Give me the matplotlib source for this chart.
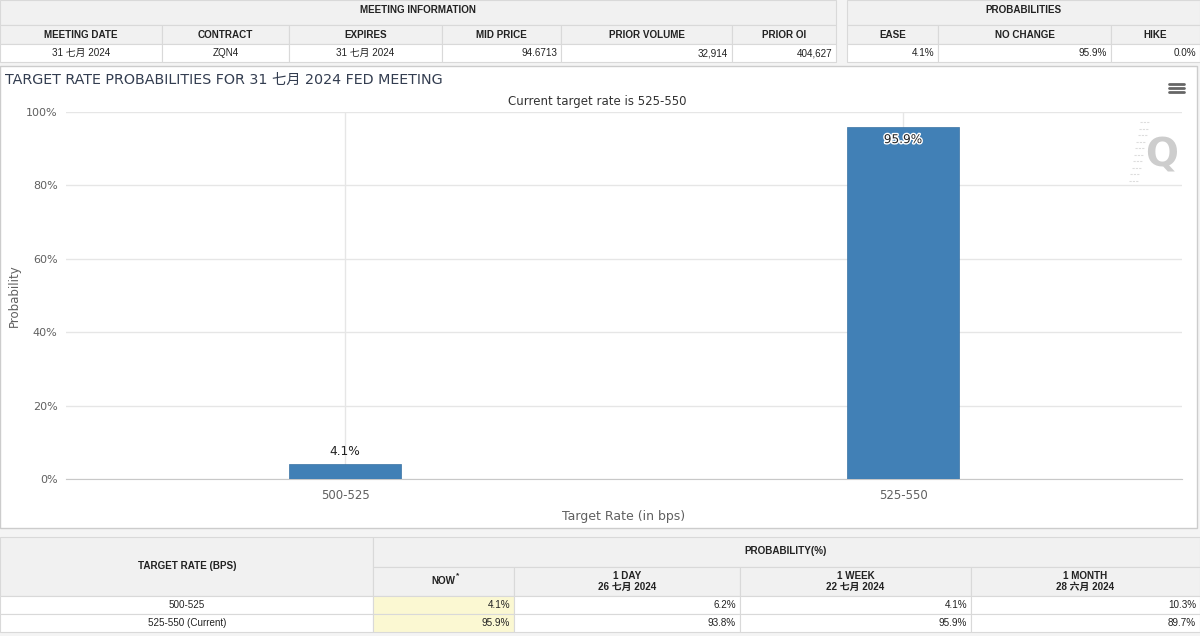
import matplotlib
matplotlib.use("Agg")
import matplotlib.pyplot as plt
from matplotlib.patches import Rectangle
import matplotlib.patheffects as pe

plt.rcParams['font.family'] = ['DejaVu Sans', 'Noto Sans CJK SC']

# ---- data ----
rate_bins = ["500-525", "525-550"]
probabilities = [4.1, 95.9]
bar_labels = ["4.1%", "95.9%"]
y_ticks = [0, 20, 40, 60, 80, 100]

meeting_cols = ["MEETING DATE", "CONTRACT", "EXPIRES", "MID PRICE", "PRIOR VOLUME", "PRIOR OI"]
meeting_vals = ["31 七月 2024", "ZQN4", "31 七月 2024", "94.6713", "32,914", "404,627"]
prob_cols = ["EASE", "NO CHANGE", "HIKE"]
prob_vals = ["4.1%", "95.9%", "0.0%"]

hist_cols = ["NOW", "1 DAY\n26 七月 2024", "1 WEEK\n22 七月 2024", "1 MONTH\n28 六月 2024"]
hist_rows = ["500-525", "525-550 (Current)"]
hist_vals = [["4.1%", "6.2%", "4.1%", "10.3%"],
             ["95.9%", "93.8%", "95.9%", "89.7%"]]

W, H = 1200, 636
fig = plt.figure(figsize=(W / 100, H / 100), dpi=100)
fig.patch.set_facecolor("#f4f4f4")

bg = fig.add_axes([0, 0, 1, 1])
bg.set_xlim(0, W)
bg.set_ylim(H, 0)
bg.axis("off")

tfont = ['Liberation Sans', 'Noto Sans CJK SC']
EDGE = "#d9d9d9"
HEAD = "#f1f1f1"


def cell(x0, x1, y0, y1, fc="white"):
    bg.add_patch(Rectangle((x0, y0), x1 - x0, y1 - y0, facecolor=fc,
                           edgecolor=EDGE, linewidth=0.8))


def txt(x, y, s, ha="center", bold=False, size=7.1):
    bg.text(x, y, s, ha=ha, va="center", fontsize=size, family=tfont,
            fontweight="bold" if bold else "normal", color="#222222",
            linespacing=1.15)


# ---- top tables ----
left_edges = [0, 162, 289, 442, 561, 732, 836]
cell(0, 836, 0, 25, HEAD)
txt(418, 10, "MEETING INFORMATION", bold=True)
for i, name in enumerate(meeting_cols):
    a, b = left_edges[i], left_edges[i + 1]
    cell(a, b, 25, 44, HEAD)
    txt((a + b) / 2, 34.5, name, bold=True)
    cell(a, b, 44, 62)
    if i < 3:
        txt((a + b) / 2, 53, meeting_vals[i])
    else:
        txt(b - 4, 53, meeting_vals[i], ha="right")

right_edges = [847, 938, 1111, 1200]
cell(847, 1200, 0, 25, HEAD)
txt(1023, 10, "PROBABILITIES", bold=True)
for i, name in enumerate(prob_cols):
    a, b = right_edges[i], right_edges[i + 1]
    cell(a, b, 25, 44, HEAD)
    txt((a + b) / 2, 34.5, name, bold=True)
    cell(a, b, 44, 62)
    txt(b - 4, 53, prob_vals[i], ha="right")

# ---- chart panel ----
bg.add_patch(Rectangle((0, 66), 1197, 462, facecolor="white",
                       edgecolor="#cccccc", linewidth=1))
bg.text(5, 80, "TARGET RATE PROBABILITIES FOR 31 七月 2024 FED MEETING",
        ha="left", va="center", fontsize=10.3, color="#333d50")
bg.text(597, 102, "Current target rate is 525-550", ha="center", va="center",
        fontsize=8.5, color="#333333")
for yy in (84, 88, 92):
    bg.plot([1169, 1184], [yy, yy], color="#666666", linewidth=2,
            solid_capstyle="round")
# watermark
bg.text(1162, 156, "Q", ha="center", va="center", fontsize=28,
        fontweight="bold", color="#cdcdcd")
for k in range(10):
    yy = 122 + k * 6.5
    bg.plot([1140 - k * 1.2, 1150 - k * 1.2], [yy, yy], color="#dddddd",
            linewidth=0.8, linestyle=(0, (2, 1)))

px_left, px_right, px_top, px_bot = 66, 1182, 112, 479
ax = fig.add_axes([px_left / W, 1 - px_bot / H, (px_right - px_left) / W,
                   (px_bot - px_top) / H])
ax.set_facecolor("none")
x = list(range(len(rate_bins)))
bars = ax.bar(x, probabilities, width=0.2, color="#4180b6",
              edgecolor="#3a72a3", linewidth=0.5, zorder=3)
ax.set_xlim(-0.5, 1.5)
ax.set_ylim(0, 100)
ax.set_yticks(y_ticks)
ax.set_yticklabels([f"{t}%" for t in y_ticks])
ax.set_xticks(x)
ax.set_xticklabels(rate_bins)
ax.grid(True, color="#e6e6e6", linewidth=1, zorder=0)
for s in ("top", "right", "left"):
    ax.spines[s].set_visible(False)
ax.spines["bottom"].set_color("#c8c8c8")
ax.tick_params(axis="y", length=0, labelsize=8, labelcolor="#606060", pad=6)
ax.tick_params(axis="x", length=0, labelsize=8.5, labelcolor="#606060", pad=7)
ax.set_ylabel("Probability", fontsize=8.5, color="#606060", labelpad=4)
ax.set_xlabel("Target Rate (in bps)", fontsize=9, color="#606060", labelpad=6)

for xi, p, lab in zip(x, probabilities, bar_labels):
    if p > 50:
        ax.annotate(lab, (xi, p), xytext=(0, -9), textcoords="offset points",
                    ha="center", va="center", fontsize=8.7, color="#222222",
                    path_effects=[pe.withStroke(linewidth=2, foreground="white")])
    else:
        ax.annotate(lab, (xi, p), xytext=(0, 9), textcoords="offset points",
                    ha="center", va="center", fontsize=8.7, color="#222222")

# ---- bottom table ----
cell(0, 373, 537, 596, HEAD)
txt(187, 566, "TARGET RATE (BPS)", bold=True)
cell(373, 1200, 537, 567, HEAD)
txt(786, 551, "PROBABILITY(%)", bold=True)
hist_edges = [373, 514, 740, 971, 1200]
for i, name in enumerate(hist_cols):
    a, b = hist_edges[i], hist_edges[i + 1]
    cell(a, b, 567, 596, HEAD)
    txt((a + b) / 2, 581.5, name, bold=True)
bg.text(456, 576, "*", ha="left", va="center", fontsize=6, color="#222222",
        family=tfont, fontweight="bold")
row_tops = [596, 614]
for r, name in enumerate(hist_rows):
    y0 = row_tops[r]
    cell(0, 373, y0, y0 + 18)
    txt(187, y0 + 9, name)
    for i, v in enumerate(hist_vals[r]):
        a, b = hist_edges[i], hist_edges[i + 1]
        cell(a, b, y0, y0 + 18, "#fbf8d2" if i == 0 else "white")
        txt(b - 4, y0 + 9, v, ha="right")

fig.savefig("out.png", dpi=100)
